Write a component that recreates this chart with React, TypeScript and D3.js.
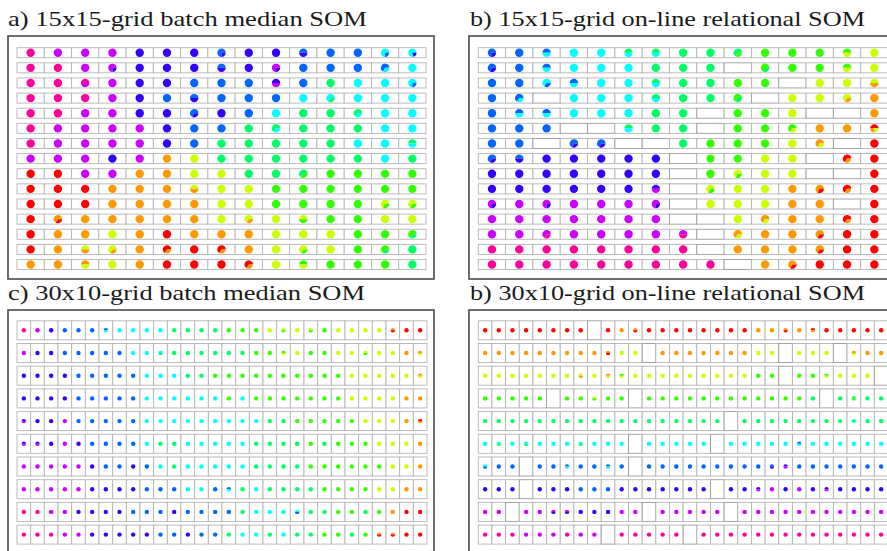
import React from 'react';
import * as d3 from 'd3';

const COLOR_KEYS = ['r', 'o', 'y', 'g', 'e', 'c', 'b', 'v', 'p', 'm'];
const COLOR_VALUES = ['#FF0000', '#FF9900', '#CCFF00', '#33FF00', '#00FF66', '#00FFFF', '#0066FF', '#3300FF', '#CC00FF', '#FF0099'];

const TITLES = [
  'a) 15x15-grid batch median SOM',
  'b) 15x15-grid on-line relational SOM',
  'c) 30x10-grid batch median SOM',
  'b) 30x10-grid on-line relational SOM',
];

// each token = one map unit; letters give class shares, '.' = empty unit
const GRID_A = [
  'm p p p v v v bbbv v v bv b b cccb ccccv',
  'm m p pppv v v v bv v pppv b b b bbc c',
  'm m mp p v v b b b vp b e c c cccb',
  'm m m p v b bv b b b c cce c c c',
  'm m p p v v bbv v b c e e eec c c',
  'm p p p p v b b e eec e e e c c',
  'm p p p p v b e e e e e c c ec',
  'p p p v p o y e e e e e e c e',
  'r r p p o o y y e e eeg g g g g',
  'r r r o o o yo y y g g g g g g',
  'r r r o o o o y y g g g g yyg yyg',
  'r oor o o o o o y yyo y yg g g y y',
  'r o o y o r o o o y y y g g gge',
  'r o yo yyo o rro r rro o y yyg y g gge e',
  'o o oy y o r r r rro y gy g g g e',
];

const GRID_B = [
  'bbbv b bc c c ec ec e e eeg g g g gy y',
  'bbv b bc c c c e e e . gge g g gy y',
  'b b ccb bc c c ec e e g g . y y yo',
  'b bbc . c c c ec e e gge . y y yyo o',
  'b bc bc c c c e e . g g y . . o',
  'b b b . . ec e e . g g ggy o o rroy',
  'b b . bbv bbv . . e g g g y ooy . r',
  'bbv bv v v v v v . g g y y . rro r',
  'v v v v v v v . g yyg y y . . r',
  'v v v v v v vp . yyg y y o oor rro r',
  'pppv p pppv p p p pppv . y y y o o . r',
  'p p p p p p p . . y ooy o o rro r',
  'p p ppm p p p p pm . ooy o o oor r r',
  'm m m m m m m m . o o o oor r r',
  'm m m m m m m m m . o oor r r r',
];

const GRID_C = [
  'm p v b b b bc c c c c e e e e g g g y yg y yg g y y y y or r r',
  'p v v b b b b b c c ce e e e e e e g g gy y g g y y yg y y o oy',
  'v v v v b b b b b c c c e e g g g g g g g g g g y y y y y oy',
  'v v v v b b b b b c c c c c c g c g g g g g g g y y y y o o',
  'vp v v p b b b b b c c c c c c c c c e e g g g g g y y y o ro',
  'vp vp v p v b b b b c e e c c c c c e e e e g e g g g y y y o',
  'p p p p p v b b v b c e c c c c c e e e e g g g g g g y y o',
  'p p p p p v v v v b b b c c b bc e c e e e e g g g g y y o o',
  'm m p p v v v v b b b v b b b b e c c c cb e e g g e g o r r',
  'm m m p p v v v v v b b v b b e c c e c e e g g e g or or r r',
];

const GRID_D = [
  'r r r r r r r r . r o or r r r r r r r r o o or o ro r r r r r',
  'o o o o o o o o o or y y . o o o o o o o y y . y y y . oy o o',
  'y y y y y y y yo y oy gy y y y y y y y y y g g . g g gy y y y .',
  'g g g g g . g g yg g g . g g g g g g g g g g g g e . e eg e e',
  'e e e e e e e e e e e e e e e e e e . e e e e e e e e ec e e',
  'c ce c ce c c c ce c c c . c c c c c . c c c c c bc c c c c c c',
  'cb b b . b b bc b b bc b . b b b b b b b b b bv vp b b b b b b b',
  'v v v . v v v b b b v v v v v v v . v v vp p v p v vp v v v v',
  'p p . p p pv pv v v v p p . p p p p p . p p p p p p p p p p p',
  'm m m p p p m p p . m m m m m . m m m m m m m m m m m m m m',
];

const color = d3.scaleOrdinal<string, string>().domain(COLOR_KEYS).range(COLOR_VALUES);

type PanelCfg = {
  title: string;
  grid: string[];
  tx: number; ty: number; tw: number;
  frame: [number, number, number, number];
  x0: number; x1: number;
  y0: number; pitch: number; h: number; r: number;
};

const PANELS: PanelCfg[] = [
  { title: TITLES[0], grid: GRID_A, tx: 8, ty: 26, tw: 359, frame: [8, 36, 434, 279], x0: 17, x1: 426, y0: 47.7, pitch: 15.13, h: 10, r: 4.2 },
  { title: TITLES[1], grid: GRID_B, tx: 470, ty: 26, tw: 395, frame: [469, 36, 897, 279], x0: 478.3, x1: 888, y0: 47.7, pitch: 15.13, h: 10, r: 4.2 },
  { title: TITLES[2], grid: GRID_C, tx: 8, ty: 300, tw: 357, frame: [8, 310, 434, 565], x0: 17, x1: 427, y0: 320.8, pitch: 22.7, h: 19, r: 2.2 },
  { title: TITLES[3], grid: GRID_D, tx: 470, ty: 300, tw: 395, frame: [469, 310, 897, 565], x0: 478.3, x1: 888, y0: 320.8, pitch: 22.7, h: 19, r: 2.2 },
];

const pie = d3.pie<[string, number]>().sort(null).value(d => d[1]).startAngle(Math.PI / 2).endAngle(Math.PI / 2 - 2 * Math.PI);

function Cell({ token, cx, cy, r }: { token: string; cx: number; cy: number; r: number }) {
  if (token === '.') return null;
  const counts = d3.rollups(token.split(''), v => v.length, d => d);
  if (counts.length === 1) {
    return <circle cx={cx} cy={cy} r={r} fill={color(counts[0][0])} />;
  }
  const arc = d3.arc<d3.PieArcDatum<[string, number]>>().innerRadius(0).outerRadius(r);
  const slices = pie(counts as [string, number][]);
  return (
    <g transform={`translate(${cx},${cy})`}>
      {slices.map((s, i) => (
        <path key={i} d={arc(s) || ''} fill={color(s.data[0])} />
      ))}
    </g>
  );
}

function Panel({ cfg }: { cfg: PanelCfg }) {
  const rows = cfg.grid.map(r => r.trim().split(/\s+/));
  const nCols = rows[0].length;
  const x = d3.scaleBand<number>().domain(d3.range(nCols)).range([cfg.x0, cfg.x1]);
  const y = d3.scaleLinear().domain([0, 1]).range([cfg.y0, cfg.y0 + cfg.pitch]);
  const [fx0, fy0, fx1, fy1] = cfg.frame;
  return (
    <g>
      <text
        x={cfg.tx}
        y={cfg.ty}
        fontFamily="'Liberation Serif', 'DejaVu Serif', serif"
        fontSize={21}
        fill="#1a1a1a"
        textLength={cfg.tw}
        lengthAdjust="spacingAndGlyphs"
      >
        {cfg.title}
      </text>
      <rect x={fx0} y={fy0} width={fx1 - fx0} height={fy1 - fy0} fill="white" stroke="#4a4a4a" strokeWidth={1.6} />
      {rows.map((row, ri) =>
        row.map((tok, ci) => {
          const rx = x(ci)!;
          const ry = y(ri);
          return (
            <g key={`${ri}-${ci}`}>
              <rect
                x={rx}
                y={ry}
                width={x.bandwidth()}
                height={cfg.h}
                fill="white"
                stroke={tok === '.' ? '#9a9a9a' : '#b4b4b4'}
                strokeWidth={0.9}
              />
              <Cell token={tok} cx={rx + x.bandwidth() / 2} cy={ry + cfg.h / 2} r={cfg.r} />
            </g>
          );
        })
      )}
    </g>
  );
}

export default function App() {
  return (
    <svg
      width={887}
      height={551}
      viewBox="0 0 887 551"
      style={{ position: 'absolute', left: 0, top: 0, background: 'white' }}
    >
      <rect x={0} y={0} width={887} height={551} fill="white" />
      {PANELS.map((p, i) => (
        <Panel key={i} cfg={p} />
      ))}
    </svg>
  );
}
